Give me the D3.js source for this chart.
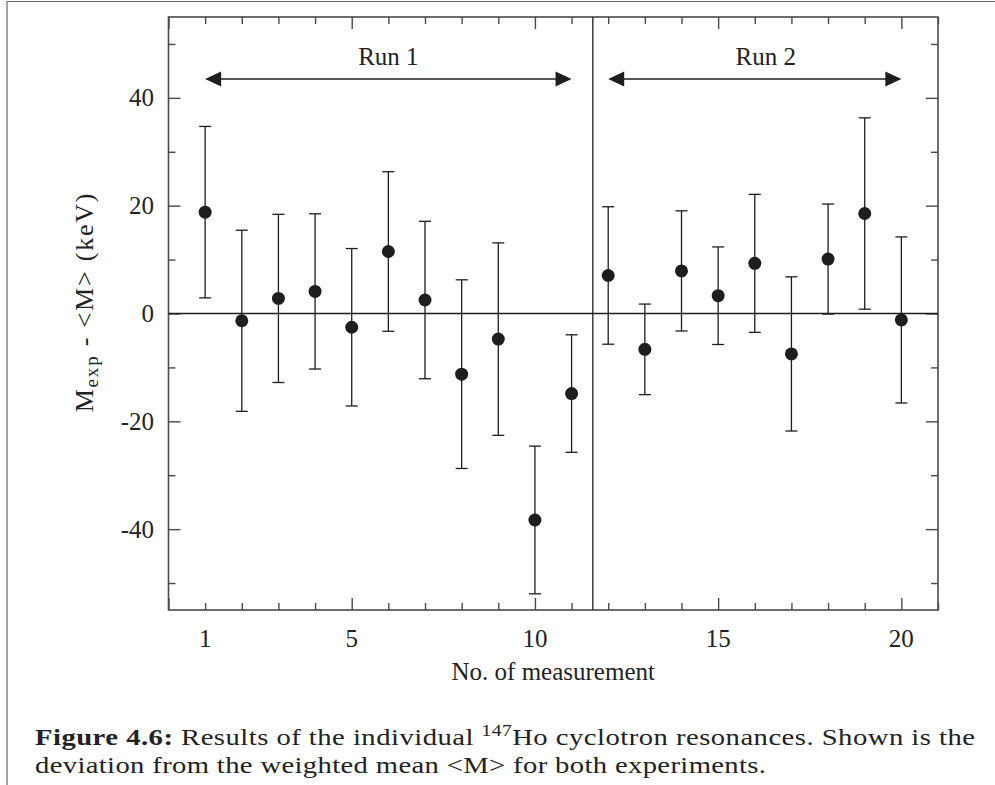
<!DOCTYPE html>
<html>
<head>
<meta charset="utf-8">
<script src="https://cdn.jsdelivr.net/npm/d3@7"></script>
<style>
  html, body { margin: 0; padding: 0; background: #fff; }
  svg { display: block; }
  text { font-family: "Liberation Serif", "Times New Roman", serif; fill: #222; }
</style>
</head>
<body>
<svg id="chart" width="995" height="785"></svg>
<script>
// Individual 147Ho cyclotron resonances: deviation from weighted mean (keV)
const measurement = [1, 2, 3, 4, 5, 6, 7, 8, 9, 10, 11, 12, 13, 14, 15, 16, 17, 18, 19, 20];
const deviation   = [18.8, -1.35, 2.8, 4.1, -2.55, 11.5, 2.5, -11.25, -4.75, -38.3,
                     -14.85, 7.05, -6.65, 7.9, 3.3, 9.3, -7.5, 10.1, 18.55, -1.2];
const uncertainty = [15.9, 16.8, 15.6, 14.4, 14.6, 14.8, 14.6, 17.5, 17.85, 13.7,
                     10.9, 12.75, 8.4, 11.15, 9.05, 12.8, 14.3, 10.2, 17.75, 15.4];

const xTickLabels = [1, 5, 10, 15, 20];
const yTickLabels = [-40, -20, 0, 20, 40];
const runNames  = ["Run 1", "Run 2"];
const runStart  = [1, 12];
const runEnd    = [11, 20];
const runLabelX = [6, 16.3];
const runArrowY = 43.5;
const runDivider = 11.58;

const svg = d3.select("#chart");
const plotL = 168.5, plotR = 938, plotT = 17, plotB = 610;

const x = d3.scaleLinear().domain([0, 21]).range([plotL, plotR]);
const y = d3.scaleLinear().domain([-55, 55]).range([plotB, plotT]);

const ink = "#1e1e1e";
const frameColor = "#4a4a4a";

// page border (top and left rules)
svg.append("line").attr("x1", 7).attr("x2", 995).attr("y1", 1.5).attr("y2", 1.5)
  .attr("stroke", "#666").attr("stroke-width", 1.2);
svg.append("line").attr("x1", 7).attr("x2", 7).attr("y1", 1.5).attr("y2", 785)
  .attr("stroke", "#666").attr("stroke-width", 1.2);

// minor and major ticks on all four sides, pointing inward
const xMinor = d3.range(0, 22, 1).filter(v => v % 5 !== 0);
const xMajor = d3.range(0, 21, 5);
const yMinor = d3.range(-50, 51, 10).filter(v => v % 20 !== 0);
const yMajor = d3.range(-40, 41, 20);
const minorLen = 7, majorLen = 12;

function axisTicks(axisFn, scale, values, len, transform) {
  const g = svg.append("g").attr("transform", transform)
    .call(axisFn(scale).tickValues(values).tickSize(-len).tickFormat(""));
  g.select(".domain").remove();
  g.selectAll(".tick line").attr("stroke", frameColor).attr("stroke-width", 1.4);
}
axisTicks(d3.axisBottom, x, xMinor, minorLen, `translate(0,${plotB})`);
axisTicks(d3.axisBottom, x, xMajor, majorLen, `translate(0,${plotB})`);
axisTicks(d3.axisTop, x, xMinor, minorLen, `translate(0,${plotT})`);
axisTicks(d3.axisTop, x, xMajor, majorLen, `translate(0,${plotT})`);
axisTicks(d3.axisLeft, y, yMinor, minorLen, `translate(${plotL},0)`);
axisTicks(d3.axisLeft, y, yMajor, majorLen, `translate(${plotL},0)`);
axisTicks(d3.axisRight, y, yMinor, minorLen, `translate(${plotR},0)`);
axisTicks(d3.axisRight, y, yMajor, majorLen, `translate(${plotR},0)`);

// frame
svg.append("rect").attr("x", plotL).attr("y", plotT)
  .attr("width", plotR - plotL).attr("height", plotB - plotT)
  .attr("fill", "none").attr("stroke", frameColor).attr("stroke-width", 1.6);

// tick labels
svg.append("g").selectAll("text").data(xTickLabels).join("text")
  .attr("x", d => x(d)).attr("y", 647)
  .attr("text-anchor", "middle").attr("font-size", 25)
  .text(d => d);
svg.append("g").selectAll("text").data(yTickLabels).join("text")
  .attr("x", 154).attr("y", d => y(d)).attr("dy", "0.34em")
  .attr("text-anchor", "end").attr("font-size", 25)
  .text(d => d);

// axis titles
svg.append("text")
  .attr("x", (plotL + plotR) / 2).attr("y", 680)
  .attr("text-anchor", "middle").attr("font-size", 25)
  .text("No. of measurement");

const yTitle = svg.append("text")
  .attr("transform", "translate(93,302) rotate(-90)")
  .attr("text-anchor", "middle").attr("font-size", 26)
  .attr("letter-spacing", 1.8);
yTitle.append("tspan").text("M");
yTitle.append("tspan").attr("font-size", 19).attr("dy", 5).text("exp");
yTitle.append("tspan").attr("dy", -5).text(" - <M> (keV)");

// zero line and run divider
svg.append("line").attr("x1", plotL).attr("x2", plotR)
  .attr("y1", y(0)).attr("y2", y(0))
  .attr("stroke", ink).attr("stroke-width", 1.3);
svg.append("line").attr("x1", x(runDivider)).attr("x2", x(runDivider))
  .attr("y1", plotT).attr("y2", plotB)
  .attr("stroke", ink).attr("stroke-width", 1.3);

// run arrows and labels
const headLen = 16, headHalf = 7.5;
runNames.forEach((name, i) => {
  const x0 = x(runStart[i]), x1 = x(runEnd[i]), yy = y(runArrowY);
  svg.append("line").attr("x1", x0 + headLen - 1).attr("x2", x1 - headLen + 1)
    .attr("y1", yy).attr("y2", yy).attr("stroke", ink).attr("stroke-width", 1.4);
  svg.append("path")
    .attr("d", `M${x0},${yy} L${x0 + headLen},${yy - headHalf} L${x0 + headLen},${yy + headHalf} Z`)
    .attr("fill", ink);
  svg.append("path")
    .attr("d", `M${x1},${yy} L${x1 - headLen},${yy - headHalf} L${x1 - headLen},${yy + headHalf} Z`)
    .attr("fill", ink);
  svg.append("text").attr("x", x(runLabelX[i])).attr("y", yy - 14)
    .attr("text-anchor", "middle").attr("font-size", 25).text(name);
});

// error bars and points
const pts = measurement.map((m, i) => ({ m, v: deviation[i], e: uncertainty[i] }));
const capHalf = 6;
const bars = svg.append("g").attr("stroke", ink).attr("stroke-width", 1.3);
bars.selectAll(".stem").data(pts).join("line")
  .attr("x1", d => x(d.m)).attr("x2", d => x(d.m))
  .attr("y1", d => y(d.v + d.e)).attr("y2", d => y(d.v - d.e));
bars.selectAll(".capTop").data(pts).join("line")
  .attr("x1", d => x(d.m) - capHalf).attr("x2", d => x(d.m) + capHalf)
  .attr("y1", d => y(d.v + d.e)).attr("y2", d => y(d.v + d.e));
bars.selectAll(".capBot").data(pts).join("line")
  .attr("x1", d => x(d.m) - capHalf).attr("x2", d => x(d.m) + capHalf)
  .attr("y1", d => y(d.v - d.e)).attr("y2", d => y(d.v - d.e));

svg.append("g").selectAll("circle").data(pts).join("circle")
  .attr("cx", d => x(d.m)).attr("cy", d => y(d.v)).attr("r", 6.5)
  .attr("fill", ink);

// caption: a wide book face, widened horizontally to fill the text block
const capScale = 1.22;
const cap = svg.append("g").attr("font-size", 23.5)
  .attr("transform", `translate(35,0) scale(${capScale},1)`);
const l1 = cap.append("text").attr("x", 0).attr("y", 745)
  .attr("textLength", 940 / capScale).attr("lengthAdjust", "spacing");
l1.append("tspan").attr("font-weight", "bold").text("Figure 4.6:");
l1.append("tspan").text(" Results of the individual ");
l1.append("tspan").attr("font-size", 16).attr("dy", -9).text("147");
l1.append("tspan").attr("dy", 9).text("Ho cyclotron resonances. Shown is the");
cap.append("text").attr("x", 0).attr("y", 773)
  .attr("textLength", 731 / capScale).attr("lengthAdjust", "spacing")
  .text("deviation from the weighted mean <M> for both experiments.");
</script>
</body>
</html>
